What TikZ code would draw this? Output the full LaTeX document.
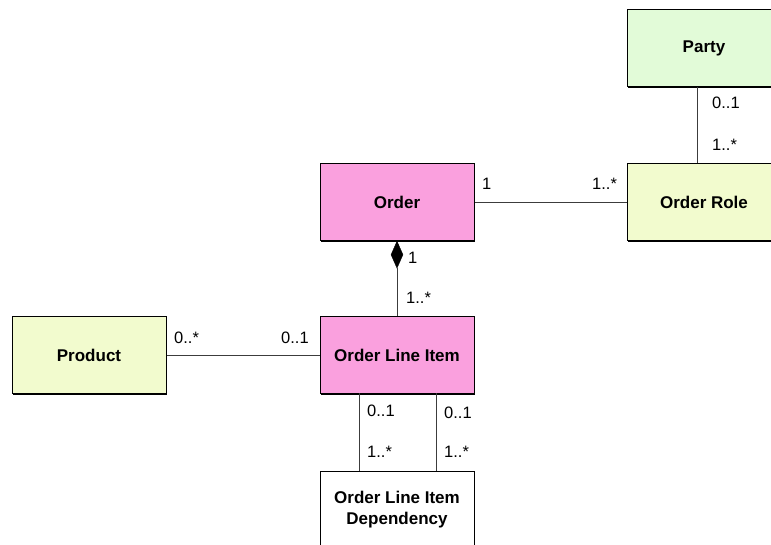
\documentclass[tikz,border=0pt]{standalone}
\usepackage{fontspec}
\setmainfont{Liberation Sans}
\usetikzlibrary{shapes.geometric}
\definecolor{orderpink}{RGB}{250,160,222}
\definecolor{partygreen}{RGB}{226,251,216}
\definecolor{roleyellow}{RGB}{242,251,206}
\definecolor{linegray}{RGB}{60,60,60}
\tikzset{
  entity/.style={draw=black, line width=1pt, minimum width=154pt, minimum height=77pt,
    font=\fontsize{17}{20}\selectfont\bfseries, align=center, inner sep=0pt,
    preaction={fill=black, transform canvas={shift={(1.2pt,-1.2pt)}}}},
  assoc/.style={draw=linegray, line width=0.9pt},
  mult/.style={font=\fontsize{16.5}{19}\selectfont, inner sep=0pt, anchor=west},
  comp/.style={diamond, fill=black, draw=black, minimum width=12pt, minimum height=27pt, inner sep=0pt, aspect=0.45}
}
\begin{document}
\begin{tikzpicture}[x=1pt, y=-1pt]
  \useasboundingbox (0,0) rectangle (771,545);
  \begin{scope}
    \clip (0,0) rectangle (771,545);
    % classes
    \node[entity, fill=partygreen] (party) at (704,48) {Party};
    \node[entity, fill=roleyellow] (role) at (704,202) {Order Role};
    \node[entity, fill=orderpink] (order) at (397,202) {Order};
    \node[entity, fill=orderpink] (oli) at (397,355) {Order Line Item};
    \node[entity, fill=roleyellow] (product) at (89,355) {Product};
    \node[entity, fill=white, minimum height=84pt] (dep) at (397,513) {};
    \node[font=\fontsize{17}{21}\selectfont\bfseries, align=center] (deptext) at (397,510) {Order Line Item\\Dependency};
  \end{scope}
  % composition: order line items belong to an order
  \node[comp, anchor=north] (dia) at (order.south) {};
  \draw[assoc] (dia.south) -- (dia.south |- oli.north);
  % associations
  \draw[assoc] (order.east) -- (role.west);
  \draw[assoc] (product.east) -- (oli.west);
  \coordinate (pb) at (697,87);
  \coordinate (rt) at (697,163);
  \draw[assoc] (pb) -- (rt);
  \coordinate (a1) at (359,393);
  \coordinate (a2) at (359,471);
  \coordinate (b1) at (436,393);
  \coordinate (b2) at (436,471);
  \draw[assoc] (a1) -- (a2);
  \draw[assoc] (b1) -- (b2);
  % multiplicities
  \node[mult] (m1) at (712,103) {0..1};
  \node[mult] (m2) at (712,145) {1..*};
  \node[mult] (m3) at (482,184) {1};
  \node[mult] (m4) at (592,184) {1..*};
  \node[mult] (m5) at (408,258) {1};
  \node[mult] (m6) at (406,298) {1..*};
  \node[mult] (m7) at (174,338) {0..*};
  \node[mult] (m8) at (281,338) {0..1};
  \node[mult] (m9) at (367,411) {0..1};
  \node[mult] (m10) at (367,452) {1..*};
  \node[mult] (m11) at (444,413) {0..1};
  \node[mult] (m12) at (444,452) {1..*};
\end{tikzpicture}
\end{document}
